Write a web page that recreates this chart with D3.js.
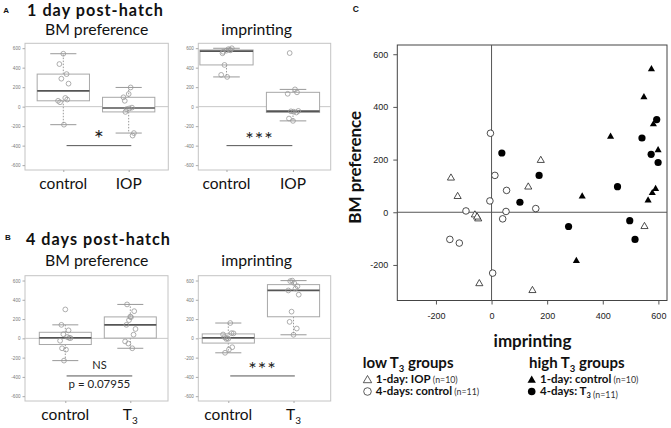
<!DOCTYPE html>
<html><head><meta charset="utf-8">
<script src="https://cdn.jsdelivr.net/npm/d3@7"></script>
<style>
body{margin:0;background:#fff}
svg text{font-family:Lato,"Open Sans",sans-serif}
</style>
</head><body>
<svg id="c" width="671" height="428"></svg>
<script>
// ---- data: paired scores per chick (imprinting, BM preference) ----
const ctl1Imprint = [575, 548, 582, 428, 599, 326, 590, 578, 563, 305];
const ctl1BM      = [543, 437, 334, 287, 236,  60,  89,  73,  45, -185];
const iop1Imprint = [-146, -122, -60, -48, -44, 132, 177, 147, 550, -52];
const iop1BM      = [130, 60, -10, -25, -271, 96, 197, -297, -54, -18];
const ctl4Imprint = [-4, 12, 54, -6, 52, 40, 159, -92, -150, -116, 4];
const ctl4BM      = [300, 140, 83, 43, 3, -25, 14, 5, -103, -117, -231];
const t3Imprint   = [37, 171, 102, 277, 453, 497, 516, 541, 594, 574, 599];
const t3BM        = [225, 140, 38, -54, 97, -32, -103, 282, 352, 220, 189];
const boxTicks = [-600, -400, -200, 0, 200, 400, 600];
const scatterTicks = [-200, 0, 200, 400, 600];
const sigLevel = -400;

const svg = d3.select("#c");
svg.append("rect").attr("width",671).attr("height",428).attr("fill","#fff");

function fivenum(arr){
  const s = arr.slice().sort((a,b)=>a-b), n = s.length;
  const n4 = Math.floor((n+3)/2)/2;
  return [1, n4, (n+1)/2, n+1-n4, n].map(d => 0.5*(s[Math.floor(d)-1] + s[Math.ceil(d)-1]));
}
const jitter = [0, -0.06, 0.05, -0.03, 0.08, -0.08, 0.03, 0.06, -0.05, 0.01, -0.02];

function boxPanel(cfg){
  const g = svg.append("g");
  const x = d3.scaleLinear().domain(cfg.xdom).range([cfg.x0, cfg.x1]);
  const y = d3.scaleLinear().domain([-650, 650]).range([cfg.y1, cfg.y0]);
  g.append("rect").attr("x",cfg.x0).attr("y",cfg.y0).attr("width",cfg.x1-cfg.x0).attr("height",cfg.y1-cfg.y0)
    .attr("fill","none").attr("stroke","#c4c4c4").attr("stroke-width",1);
  const ax = g.append("g").attr("transform",`translate(${cfg.x0},0)`)
    .call(d3.axisLeft(y).tickValues(boxTicks).tickSize(2.5).tickPadding(2).tickFormat(d=>String(d)));
  ax.select(".domain").remove();
  ax.selectAll("line").attr("stroke","#aaa");
  ax.selectAll("text").attr("font-size","4.6px").attr("fill","#777").style("font-family","Liberation Sans, Arial, sans-serif");
  const bx = g.append("g").attr("transform",`translate(0,${cfg.y1})`)
    .call(d3.axisBottom(x).tickValues([1,2]).tickSize(2).tickFormat(""));
  bx.select(".domain").remove();
  bx.selectAll("line").attr("stroke","#aaa");
  // zero line
  g.append("line").attr("x1",cfg.x0).attr("x2",cfg.x1).attr("y1",y(0)).attr("y2",y(0))
    .attr("stroke","#c8c8c8").attr("stroke-width",1);
  cfg.data.forEach((vals, i) => {
    const c = i + 1;
    const [mn, q1, med, q3, mx] = fivenum(vals);
    const iqr = q3 - q1;
    const lo = d3.min(vals.filter(v => v >= q1 - 1.5*iqr));
    const hi = d3.max(vals.filter(v => v <= q3 + 1.5*iqr));
    const hw = 0.4, cw = 0.2;
    g.append("line").attr("x1",x(c)).attr("x2",x(c)).attr("y1",y(q3)).attr("y2",y(hi))
      .attr("stroke","#999").attr("stroke-dasharray","1.5,1.5");
    g.append("line").attr("x1",x(c)).attr("x2",x(c)).attr("y1",y(q1)).attr("y2",y(lo))
      .attr("stroke","#999").attr("stroke-dasharray","1.5,1.5");
    [hi, lo].forEach(v => g.append("line").attr("x1",x(c-cw)).attr("x2",x(c+cw)).attr("y1",y(v)).attr("y2",y(v))
      .attr("stroke","#999").attr("stroke-width",1));
    g.append("rect").attr("x",x(c-hw)).attr("y",y(q3)).attr("width",x(c+hw)-x(c-hw)).attr("height",y(q1)-y(q3))
      .attr("fill","#fff").attr("stroke","#a8a8a8").attr("stroke-width",1);
    g.append("line").attr("x1",x(c-hw)).attr("x2",x(c+hw)).attr("y1",y(med)).attr("y2",y(med))
      .attr("stroke","#555").attr("stroke-width",1.7);
    g.selectAll(null).data(vals).enter().append("circle")
      .attr("cx",(d,k)=>x(c + jitter[k % jitter.length])).attr("cy",d=>y(d)).attr("r",2.4)
      .attr("fill","none").attr("stroke","#999").attr("stroke-width",0.8);
    const lab = g.append("text").attr("x",x(c)).attr("y",cfg.labY).attr("text-anchor","middle")
      .attr("font-size","15.5px").attr("fill","#111");
    lab.append("tspan").text(cfg.cats[i]);
    if (cfg.subs && cfg.subs[i]) lab.append("tspan").attr("font-size","10px").attr("dy","4").text(cfg.subs[i]);
  });
  // significance
  g.append("line").attr("x1",x(cfg.sigFrom)).attr("x2",x(cfg.sigTo)).attr("y1",y(cfg.sigY)).attr("y2",y(cfg.sigY))
    .attr("stroke","#555").attr("stroke-width",1);
  cfg.sigText.forEach(t => g.append("text").attr("x",(x(cfg.sigFrom)+x(cfg.sigTo))/2).attr("y",t.y)
    .attr("text-anchor","middle").attr("font-size",t.size).attr("fill","#222")
    .attr("letter-spacing", t.ls || 0).text(t.text));
  g.append("text").attr("x",(cfg.x0+cfg.x1)/2 + cfg.titleDx).attr("y",cfg.titleY).attr("text-anchor","middle")
    .attr("font-size","15.8px").attr("fill","#111").text(cfg.title);
}

boxPanel({x0:25, x1:168.3, y0:43.3, y1:170, xdom:[0.414,2.606], data:[ctl1BM, iop1BM],
  cats:["control","IOP"], labY:188.5, title:"BM preference", titleY:35, titleDx:0,
  sigFrom:1.05, sigTo:2.04, sigY:sigLevel, sigText:[{text:"*", y:147, size:"24px"}]});
boxPanel({x0:198.3, x1:330.7, y0:43.3, y1:170, xdom:[0.576,2.567], data:[ctl1Imprint, iop1Imprint],
  cats:["control","IOP"], labY:188.5, title:"imprinting", titleY:35, titleDx:-7.8,
  sigFrom:1.0, sigTo:1.99, sigY:sigLevel, sigText:[{text:"***", y:146, size:"20px", ls:"1px"}]});
boxPanel({x0:25, x1:168, y0:275.7, y1:401, xdom:[0.38,2.58], data:[ctl4BM, t3BM],
  cats:["control","T"], subs:[null,"3"], labY:420, title:"BM preference", titleY:265.5, titleDx:0.2,
  sigFrom:1.02, sigTo:2.03, sigY:-390, sigText:[{text:"NS", y:369, size:"11px"},{text:"p = 0.07955", y:387.7, size:"11.5px"}]});
boxPanel({x0:198.3, x1:330.7, y0:275.7, y1:401, xdom:[0.54,2.57], data:[ctl4Imprint, t3Imprint],
  cats:["control","T"], subs:[null,"3"], labY:420, title:"imprinting", titleY:265.7, titleDx:-7.8,
  sigFrom:1.03, sigTo:2.02, sigY:-390, sigText:[{text:"***", y:376, size:"20px", ls:"1px"}]});

// panel letters + headings
function txt(x,y,s,size,weight,anchor){
  return svg.append("text").attr("x",x).attr("y",y).attr("font-size",size).attr("font-weight",weight||"normal")
    .attr("text-anchor",anchor||"start").attr("fill","#111").text(s);
}
txt(3.3,13.3,"A","8px","bold").style("font-family","Liberation Sans, Arial, sans-serif");
txt(5,239.5,"B","8px","bold").style("font-family","Liberation Sans, Arial, sans-serif");
txt(352.7,11.7,"C","8.5px","bold").style("font-family","Liberation Sans, Arial, sans-serif");
txt(27,16.2,"1 day post-hatch","16.2px","bold").attr("textLength",136).attr("lengthAdjust","spacing");
txt(26,245.4,"4 days post-hatch","16.2px","bold").attr("textLength",144).attr("lengthAdjust","spacing");

// ---- panel C scatter ----
const gC = svg.append("g");
const xS = d3.scaleLinear().domain([-339, 631]).range([397.3, 667]);
const yS = d3.scaleLinear().domain([-335, 635]).range([300.5, 45]);
gC.append("rect").attr("x",397.3).attr("y",45).attr("width",667-397.3).attr("height",300.5-45)
  .attr("fill","none").attr("stroke","#444").attr("stroke-width",1);
gC.append("line").attr("x1",xS(0)).attr("x2",xS(0)).attr("y1",45).attr("y2",300.5).attr("stroke","#555");
gC.append("line").attr("x1",397.3).attr("x2",667).attr("y1",yS(0)).attr("y2",yS(0)).attr("stroke","#555");
const axX = gC.append("g").attr("transform","translate(0,300.5)")
  .call(d3.axisBottom(xS).tickValues(scatterTicks).tickSize(4).tickPadding(8).tickFormat(d=>String(d)));
const axY = gC.append("g").attr("transform","translate(397.3,0)")
  .call(d3.axisLeft(yS).tickValues(scatterTicks).tickSize(4).tickPadding(5).tickFormat(d=>String(d)));
[axX, axY].forEach(a => {
  a.select(".domain").remove();
  a.selectAll("line").attr("stroke","#555");
  a.selectAll("text").attr("font-size","9px").attr("fill","#222").style("font-family","Liberation Sans, Arial, sans-serif");
});
const tri = d3.symbol().type(d3.symbolTriangle).size(22);
function pts(imp, bm){ return imp.map((v,i)=>({x:v, y:bm[i]})); }
gC.selectAll(null).data(pts(iop1Imprint, iop1BM)).enter().append("path").attr("d",tri)
  .attr("transform",d=>`translate(${xS(d.x)},${yS(d.y)})`).attr("fill","#fff").attr("stroke","#222").attr("stroke-width",0.8);
gC.selectAll(null).data(pts(ctl4Imprint, ctl4BM)).enter().append("circle")
  .attr("cx",d=>xS(d.x)).attr("cy",d=>yS(d.y)).attr("r",3.3).attr("fill","#fff").attr("stroke","#222").attr("stroke-width",0.8);
gC.selectAll(null).data(pts(ctl1Imprint, ctl1BM)).enter().append("path").attr("d",tri)
  .attr("transform",d=>`translate(${xS(d.x)},${yS(d.y)})`).attr("fill","#000");
gC.selectAll(null).data(pts(t3Imprint, t3BM)).enter().append("circle")
  .attr("cx",d=>xS(d.x)).attr("cy",d=>yS(d.y)).attr("r",3.6).attr("fill","#000");

txt(532.5,346.7,"imprinting","17px","bold","middle");
svg.append("text").attr("transform","translate(361,167.3) rotate(-90)").attr("text-anchor","middle")
  .attr("font-size","17px").attr("font-weight","bold").attr("fill","#111").text("BM preference");

// ---- legend ----
function head(x, label){
  const t = svg.append("text").attr("x",x).attr("y",368.3).attr("font-size","15px").attr("font-weight","bold").attr("fill","#111");
  t.append("tspan").text(label[0]);
  t.append("tspan").attr("font-size","9.5px").attr("dy","3.5").text("3");
  t.append("tspan").attr("dy","-3.5").text(label[1]);
}
head(362.7, ["low T"," groups"]);
head(529, ["high T"," groups"]);
const legTri = d3.symbol().type(d3.symbolTriangle).size(30);
function legRow(x, y, kind, bold, sub, rest){
  if (kind === "otri") svg.append("path").attr("d",legTri).attr("transform",`translate(${x},${y-3})`).attr("fill","#fff").attr("stroke","#333").attr("stroke-width",0.8);
  if (kind === "ftri") svg.append("path").attr("d",legTri).attr("transform",`translate(${x},${y-3})`).attr("fill","#000");
  if (kind === "ocir") svg.append("circle").attr("cx",x).attr("cy",y-3.5).attr("r",3.8).attr("fill","#fff").attr("stroke","#333").attr("stroke-width",0.8);
  if (kind === "fcir") svg.append("circle").attr("cx",x).attr("cy",y-3.5).attr("r",3.8).attr("fill","#000");
  const t = svg.append("text").attr("x",x+8.3).attr("y",y).attr("font-size","11.5px").attr("font-weight","bold").attr("fill","#111");
  t.append("tspan").text(bold);
  if (sub) { t.append("tspan").attr("font-size","7.5px").attr("dy","2.5").text(sub); t.append("tspan").attr("dy","-2.5").text(""); }
  t.append("tspan").attr("font-weight","normal").attr("font-size","8.8px").attr("fill","#333").text(" " + rest);
}
legRow(367.5, 383.3, "otri", "1-day: IOP", null, "(n=10)");
legRow(367.5, 395, "ocir", "4-days: control", null, "(n=11)");
legRow(531.7, 383.3, "ftri", "1-day: control", null, "(n=10)");
legRow(531.7, 395, "fcir", "4-days: T", "3", "(n=11)");
</script>
</body></html>
